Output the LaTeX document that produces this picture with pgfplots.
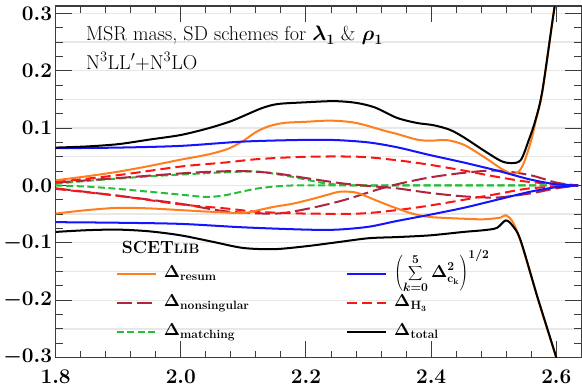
\documentclass[border=0pt]{standalone}
\usepackage{pgfplots}
\pgfplotsset{compat=1.18}
\definecolor{corange}{RGB}{255,127,30}
\definecolor{cdred}{RGB}{175,36,62}
\definecolor{cred}{RGB}{255,20,20}
\definecolor{cgreen}{RGB}{40,190,60}
\definecolor{cblue}{RGB}{20,20,255}
\definecolor{caxis}{RGB}{60,60,60}
\newcommand{\sub}[1]{\hbox{\fontsize{12}{14}\selectfont\bfseries #1}}
\begin{document}
\begin{tikzpicture}
\begin{axis}[
  scale only axis, width=523pt, height=349.7pt,
  xmin=1.8, xmax=2.64, ymin=-0.3, ymax=0.3128,
  xtick={1.8,2.0,2.2,2.4,2.6}, minor x tick num=4,
  ytick={-0.3,-0.2,-0.1,0,0.1,0.2,0.3}, minor y tick num=3,
  tick align=inside, tick pos=both,
  major tick length=16pt, minor tick length=7pt,
  every tick/.style={caxis, line width=1pt},
  axis line style={caxis, line width=1.2pt},
  ymajorgrids,
  major grid style={draw=gray!18, line width=1.3pt},
  extra y ticks={-0.25,-0.15,-0.05,0.05,0.15,0.25},
  extra y tick labels={},
  extra y tick style={grid=major, major tick length=7pt},
  ticklabel style={font=\boldmath\fontsize{20.7}{24}\selectfont},
  x tick label style={yshift=-9pt, /pgf/number format/fixed, /pgf/number format/fixed zerofill, /pgf/number format/precision=1},
  y tick label style={/pgf/number format/fixed, /pgf/number format/fixed zerofill, /pgf/number format/precision=1},
  legend columns=2,
  legend cell align=left,
  legend image code/.code={\draw[#1] (0pt,0pt) -- (39pt,0pt);},
  legend style={at={(rel axis cs:0.108,0.274)}, anchor=north west, draw=none, fill=none,
    font=\boldmath\fontsize{16}{19}\selectfont, row sep=8pt, column sep=5pt,
    nodes={text height=12pt, text depth=5pt},
    /tikz/column 2/.style={column sep=94pt}},
  every axis plot/.append style={line width=2pt},
  extra description/.code={\path (rel axis cs:0,1) ++(0pt,6pt);},
]
% matching (green)
\addplot[cgreen, dash pattern=on 7pt off 3.5pt, smooth, forget plot] coordinates {
(1.80,0.003) (1.85,0.008) (1.90,0.012) (1.95,0.016) (2.00,0.019) (2.071,0.023) (2.124,0.024) (2.178,0.015) (2.232,0.0035) (2.28,0.0) (2.35,0.0) (2.45,0.0) (2.55,0.0) (2.635,0.0)};
\addplot[cgreen, dash pattern=on 7pt off 3.5pt, smooth, forget plot] coordinates {
(1.80,0.0) (1.85,-0.002) (1.90,-0.006) (1.95,-0.011) (2.00,-0.016) (2.04,-0.020) (2.071,-0.017) (2.124,-0.005) (2.178,0.0) (2.25,0.0) (2.35,0.0) (2.45,0.0) (2.55,0.0) (2.635,0.0)};
% nonsingular (dark red)
\addplot[cdred, dash pattern=on 15pt off 5pt, smooth, forget plot] coordinates {
(1.80,0.005) (1.90,0.013) (2.00,0.021) (2.05,0.024) (2.10,0.025) (2.152,0.021) (2.205,0.012) (2.259,0.0035) (2.312,-0.002) (2.345,-0.005) (2.398,-0.013) (2.452,-0.019) (2.505,-0.021) (2.558,-0.014) (2.60,-0.005) (2.635,0.0)};
\addplot[cdred, dash pattern=on 15pt off 5pt, smooth, forget plot] coordinates {
(1.80,-0.005) (1.90,-0.018) (2.00,-0.032) (2.071,-0.045) (2.152,-0.049) (2.205,-0.040) (2.259,-0.026) (2.312,-0.008) (2.345,0.002) (2.398,0.014) (2.452,0.022) (2.505,0.026) (2.558,0.018) (2.60,0.005) (2.635,0.0)};
% H3 (red)
\addplot[cred, dash pattern=on 10pt off 5pt, smooth, forget plot] coordinates {
(1.80,0.006) (1.90,0.018) (2.00,0.033) (2.071,0.040) (2.124,0.046) (2.20,0.050) (2.285,0.050) (2.345,0.044) (2.398,0.036) (2.452,0.026) (2.505,0.015) (2.558,0.006) (2.635,0.0)};
\addplot[cred, dash pattern=on 10pt off 5pt, smooth, forget plot] coordinates {
(1.80,-0.006) (1.90,-0.018) (2.00,-0.033) (2.071,-0.040) (2.124,-0.046) (2.20,-0.049) (2.285,-0.049) (2.345,-0.043) (2.398,-0.035) (2.452,-0.025) (2.505,-0.015) (2.558,-0.005) (2.635,0.0)};
% resum (orange)
\addplot[corange, smooth, forget plot] coordinates {
(1.80,0.009) (1.85,0.016) (1.90,0.024) (1.95,0.034) (2.00,0.045) (2.03,0.051) (2.055,0.057) (2.078,0.065) (2.10,0.078) (2.12,0.093) (2.14,0.103) (2.165,0.109) (2.20,0.111) (2.24,0.113) (2.28,0.109) (2.33,0.094) (2.345,0.090) (2.377,0.080) (2.398,0.078) (2.425,0.079) (2.452,0.071) (2.484,0.050) (2.511,0.030) (2.527,0.021) (2.538,0.022) (2.548,0.039) (2.56,0.079) (2.567,0.112) (2.578,0.165) (2.597,0.31) (2.607,0.37)};
\addplot[corange, smooth, forget plot] coordinates {
(1.80,-0.049) (1.85,-0.043) (1.90,-0.039) (1.95,-0.040) (2.00,-0.043) (2.05,-0.046) (2.10,-0.048) (2.124,-0.043) (2.15,-0.037) (2.178,-0.032) (2.205,-0.025) (2.232,-0.017) (2.253,-0.011) (2.27,-0.011) (2.285,-0.014) (2.312,-0.026) (2.345,-0.040) (2.37,-0.049) (2.398,-0.055) (2.452,-0.058) (2.484,-0.059) (2.511,-0.056) (2.519,-0.052) (2.53,-0.063) (2.543,-0.097) (2.57,-0.196) (2.600,-0.301) (2.61,-0.34)};
% sum c_k (blue)
\addplot[cblue, smooth, forget plot] coordinates {
(1.80,0.065) (1.90,0.066) (2.00,0.069) (2.10,0.0765) (2.20,0.0795) (2.25,0.079) (2.30,0.075) (2.345,0.0667) (2.398,0.053) (2.452,0.040) (2.505,0.026) (2.558,0.0105) (2.60,0.002) (2.635,0.0)};
\addplot[cblue, smooth, forget plot] coordinates {
(1.80,-0.064) (1.90,-0.065) (2.00,-0.067) (2.10,-0.073) (2.20,-0.077) (2.25,-0.077) (2.30,-0.072) (2.345,-0.062) (2.398,-0.051) (2.452,-0.039) (2.505,-0.025) (2.558,-0.011) (2.60,-0.003) (2.635,0.0)};
% total (black)
\addplot[black, smooth, forget plot] coordinates {
(1.80,0.066) (1.85,0.068) (1.90,0.072) (1.95,0.080) (2.00,0.088) (2.045,0.100) (2.08,0.112) (2.104,0.123) (2.13,0.135) (2.155,0.142) (2.20,0.145) (2.245,0.147) (2.28,0.144) (2.31,0.136) (2.345,0.118) (2.377,0.109) (2.404,0.105) (2.43,0.097) (2.452,0.084) (2.484,0.061) (2.511,0.043) (2.527,0.039) (2.543,0.044) (2.556,0.079) (2.567,0.115) (2.578,0.167) (2.597,0.31) (2.607,0.37)};
\addplot[black, smooth, forget plot] coordinates {
(1.80,-0.081) (1.85,-0.078) (1.90,-0.077) (1.95,-0.080) (2.00,-0.087) (2.05,-0.098) (2.10,-0.109) (2.15,-0.111) (2.20,-0.106) (2.25,-0.099) (2.30,-0.092) (2.345,-0.090) (2.398,-0.087) (2.452,-0.081) (2.484,-0.078) (2.505,-0.074) (2.519,-0.061) (2.53,-0.070) (2.543,-0.096) (2.57,-0.195) (2.600,-0.300) (2.61,-0.34)};
% legend
\addlegendimage{corange, line width=2pt}
\addlegendentry{$\Delta_{\sub{resum}}$}
\addlegendimage{cblue, line width=2pt}
\addlegendentry{\smash{\fontsize{17.5}{20}\selectfont$\displaystyle\left(\sum_{k=0}^{5}\Delta^2_{\sub{c$_{\mathrm{k}}$}}\right)^{1/2}$}}
\addlegendimage{cdred, line width=2pt, dash pattern=on 15pt off 5pt}
\addlegendentry{$\Delta_{\sub{nonsingular}}$}
\addlegendimage{cred, line width=2pt, dash pattern=on 10pt off 5pt}
\addlegendentry{$\Delta_{\sub{H$_3$}}$}
\addlegendimage{cgreen, line width=2pt, dash pattern=on 7pt off 3.5pt}
\addlegendentry{$\Delta_{\sub{matching}}$}
\addlegendimage{black, line width=2pt}
\addlegendentry{$\Delta_{\sub{total}}$}
\node[anchor=base west, font=\bfseries\fontsize{17.5}{20}\selectfont] at (axis cs:1.9,-0.118) {SCET{\fontsize{13.5}{16}\selectfont LIB}};
\node[anchor=base west, font=\fontsize{20}{24}\selectfont] at (axis cs:1.843,0.252) {MSR mass, SD schemes for {\boldmath$\lambda_1$} \& {\boldmath$\rho_1$}};
\node[anchor=base west, font=\fontsize{20}{24}\selectfont] at (axis cs:1.843,0.203) {N$^3$LL$^\prime$+N$^3$LO};
\end{axis}
\end{tikzpicture}
\end{document}
